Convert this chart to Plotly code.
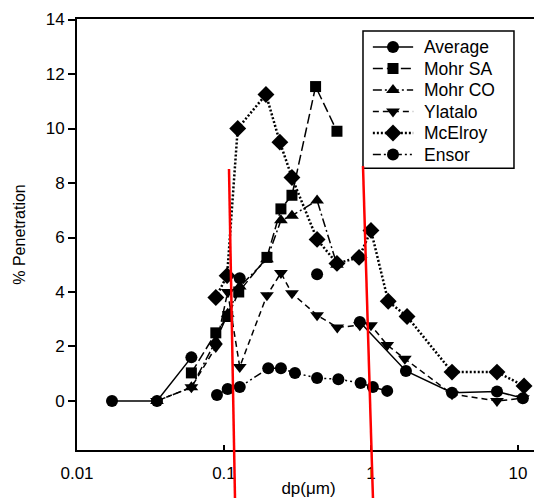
import plotly.graph_objects as go

# ---- data ----
avg_x = [0.0173, 0.035, 0.06, None, 0.128, None, 0.43, None, 0.84, 1.73, 3.56, 7.2, 10.8]
avg_y = [0.0, 0.0, 1.6, None, 4.5, None, 4.65, None, 2.9, 1.1, 0.3, 0.35, 0.1]

mohr_sa_x = [0.06, 0.088, 0.106, 0.126, 0.196, 0.244, 0.29, 0.42, 0.587]
mohr_sa_y = [1.03, 2.5, 3.1, 4.0, 5.27, 7.05, 7.55, 11.54, 9.9]

mohr_co_x = [0.035, 0.06, 0.088, 0.106, 0.128, 0.196, 0.244, 0.29, 0.43, 0.587]
mohr_co_y = [0.0, 0.5, 2.2, 3.2, 4.2, 5.2, 6.63, 6.8, 7.36, 5.0]

ylatalo_x = [0.035, 0.06, 0.088, 0.106, 0.128, 0.196, 0.244, 0.29, 0.43, 0.59,
             0.84, 1.0, 1.29, 1.70, 3.56, 7.2, 10.8]
ylatalo_y = [0.0, 0.5, 1.98, 4.0, 1.25, 3.88, 4.7, 3.95, 3.15, 2.7,
             2.78, 2.78, 2.05, 1.55, 0.25, 0.0, 0.1]

mcelroy_x = [0.088, 0.105, 0.124, 0.193, 0.24, 0.29, 0.43, 0.587, 0.83, 1.0,
             1.31, 1.76, 3.56, 7.2, 11.0]
mcelroy_y = [3.8, 4.6, 10.0, 11.25, 9.5, 8.2, 5.93, 5.05, 5.27, 6.26,
             3.66, 3.1, 1.06, 1.06, 0.55]

ensor_x = [0.0896, 0.106, 0.128, 0.2, 0.244, 0.304, 0.43, 0.6, 0.85, 1.03, 1.29]
ensor_y = [0.22, 0.44, 0.51, 1.2, 1.2, 1.03, 0.84, 0.8, 0.66, 0.51, 0.37]

series_names = ["Average", "Mohr SA", "Mohr CO", "Ylatalo", "McElroy", "Ensor"]

y_ticks = [0, 2, 4, 6, 8, 10, 12, 14]
x_ticks = [0.01, 0.1, 1, 10]
x_tick_labels = ["0.01", "0.1", "1", "10"]

FONT = "Liberation Sans, Arial, sans-serif"

# styles: (symbol, dash, line width, marker size)
styles = [
    ("circle", "solid", 1.5, 12),
    ("square", "10px,4px", 1.5, 11),
    ("triangle-up", "9px,3px,2px,3px", 1.5, 12),
    ("triangle-down", "6px,4px", 1.5, 12),
    ("diamond", "2px,2px", 2.5, 13),
    ("circle", "8px,3px,2px,3px,2px,3px", 1.5, 12),
]
data = [(avg_x, avg_y), (mohr_sa_x, mohr_sa_y), (mohr_co_x, mohr_co_y),
        (ylatalo_x, ylatalo_y), (mcelroy_x, mcelroy_y), (ensor_x, ensor_y)]

fig = go.Figure()
for name, (xs, ys), (sym, dash, lw, ms) in zip(series_names, data, styles):
    fig.add_trace(go.Scatter(
        x=xs, y=ys, name=name, mode="lines+markers",
        connectgaps=False, showlegend=False,
        line=dict(color="black", width=lw, dash=dash),
        marker=dict(symbol=sym, size=ms, color="black"),
    ))

# ---- hand-built legend (paper-fraction overlay axes) ----
LEG_X0, LEG_X1, LEG_Y0, LEG_Y1 = 0.6177, 0.9438, 0.654, 0.972
ROW_TOP, ROW_STEP = 0.935, 0.0499
SYM_X0, SYM_X1, TXT_X = 0.639, 0.726, 0.745
fig.add_shape(type="rect", xref="paper", yref="paper",
              x0=LEG_X0, x1=LEG_X1, y0=LEG_Y0, y1=LEG_Y1,
              line=dict(color="black", width=1.5), fillcolor="white", layer="below")
for i, (name, (sym, dash, lw, ms)) in enumerate(zip(series_names, styles)):
    ry = ROW_TOP - i * ROW_STEP
    fig.add_trace(go.Scatter(
        x=[SYM_X0, SYM_X1], y=[ry, ry], xaxis="x2", yaxis="y2",
        mode="lines", line=dict(color="black", width=lw, dash=dash),
        showlegend=False, hoverinfo="skip",
    ))
    fig.add_trace(go.Scatter(
        x=[(SYM_X0 + SYM_X1) / 2], y=[ry], xaxis="x2", yaxis="y2",
        mode="markers", marker=dict(symbol=sym, size=ms, color="black"),
        showlegend=False, hoverinfo="skip",
    ))
    fig.add_annotation(x=TXT_X, y=ry, xref="paper", yref="paper",
                       text=name, showarrow=False, xanchor="left", yanchor="middle",
                       font=dict(family=FONT, size=17.5, color="black"))

# red vertical marker lines (annotations on the original image)
for (x0, y0, x1, y1) in [(0.3283, 0.652, 0.3413, -0.115), (0.6177, 0.659, 0.6393, -0.115)]:
    fig.add_shape(type="line", xref="paper", yref="paper",
                  x0=x0, y0=y0, x1=x1, y1=y1,
                  line=dict(color="#ff0000", width=2.5))

# page body has an 8px margin, so the figure is 534x490 placed at (8, 8)
fig.update_layout(
    width=534, height=490,
    margin=dict(l=69, r=2, t=11, b=48),
    paper_bgcolor="white", plot_bgcolor="white",
    font=dict(family=FONT, size=15, color="black"),
    showlegend=False,
    xaxis=dict(
        type="log", range=[-2, 1.15],
        tickvals=x_ticks, ticktext=x_tick_labels,
        ticks="inside", ticklen=5, tickwidth=1.5, tickcolor="black",
        ticklabelstandoff=7,
        showline=True, linecolor="black", linewidth=2, mirror=True,
        showgrid=False, zeroline=False,
        tickfont=dict(family=FONT, size=17, color="black"),
        title=dict(text="dp(\u03bcm)", font=dict(family=FONT, size=17, color="black"), standoff=2),
        automargin=False,
    ),
    yaxis=dict(
        range=[-1.8, 14.02],
        tickvals=y_ticks,
        ticks="outside", ticklen=7, tickwidth=1.5, tickcolor="black",
        showline=True, linecolor="black", linewidth=2, mirror=True,
        showgrid=False, zeroline=False,
        tickfont=dict(family=FONT, size=17, color="black"),
        title=dict(text="% Penetration", font=dict(family=FONT, size=16, color="black"), standoff=16),
        automargin=False,
    ),
    xaxis2=dict(overlaying="x", range=[0, 1], visible=False, fixedrange=True),
    yaxis2=dict(overlaying="y", range=[0, 1], visible=False, fixedrange=True),
)

fig.write_html("out.html")
